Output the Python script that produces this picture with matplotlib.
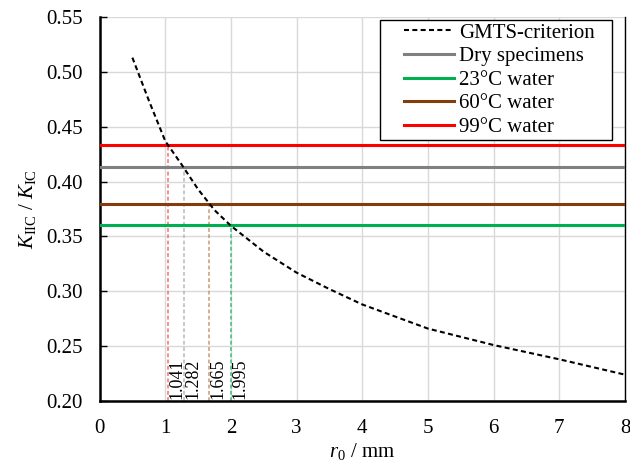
import matplotlib
matplotlib.use("Agg")
import matplotlib.pyplot as plt
from matplotlib.patches import Rectangle

plt.rcParams['font.family'] = ['Liberation Serif', 'DejaVu Serif']
plt.rcParams['mathtext.fontset'] = 'custom'
plt.rcParams['mathtext.rm'] = 'Liberation Serif'
plt.rcParams['mathtext.it'] = 'Liberation Serif:italic'

# GMTS-criterion curve K_IIC/K_IC vs r0
r0 = [0.5, 0.75, 1.0, 1.25, 1.5, 1.75, 2.0, 2.5, 3.0, 3.5, 4.0, 5.0, 6.0, 7.0, 8.0]
k_ratio = [0.513, 0.474, 0.437, 0.4155, 0.393, 0.374, 0.3597, 0.336, 0.317,
           0.302, 0.288, 0.266, 0.251, 0.238, 0.224]

# measured ratios for each condition
series_names = ['Dry specimens', '23°C water', '60°C water', '99°C water']
series_levels = [0.413, 0.360, 0.380, 0.433]
series_colors = ['#808080', '#00B050', '#843C0C', '#FF0000']

# r0 where the curve meets each level
cross_r0 = [1.282, 1.995, 1.665, 1.041]
cross_colors = ['#B8B8B8', '#3DBE78', '#C89A70', '#F47070']

fig = plt.figure(figsize=(6.3, 4.66), dpi=100)
ax = fig.add_axes([0.158, 0.1395, 0.834, 0.824])

ax.plot(r0, k_ratio, color='black', ls=(0, (2.4, 1.6)), lw=1.5, label='GMTS-criterion', zorder=4)
for name, lvl, c in zip(series_names, series_levels, series_colors):
    ax.axhline(lvl, color=c, lw=2.2, label=name, zorder=3)

for x, lvl, c in zip(cross_r0, series_levels, cross_colors):
    ax.plot([x, x], [0.20, lvl], color=c, ls=(0, (2.5, 1.6)), lw=1.1, zorder=2)
    ax.text(x + 0.01, 0.2015, f'{x:.3f}', rotation=90, ha='left', va='bottom',
            fontsize=13, zorder=5)

ax.set_xlim(0, 8)
ax.set_ylim(0.20, 0.55)
ax.set_xticks(range(0, 9))
ax.set_yticks([0.20, 0.25, 0.30, 0.35, 0.40, 0.45, 0.50, 0.55])
ax.set_yticklabels([f'{v:.2f}' for v in ax.get_yticks()])
ax.grid(True, color='#D9D9D9', lw=1.0, zorder=0)
ax.set_axisbelow(True)
ax.tick_params(axis='x', length=0, labelsize=15, pad=13)
ax.tick_params(axis='y', direction='in', length=5, width=1, labelsize=15, pad=12)

ax.spines['top'].set_visible(False)
ax.spines['left'].set_linewidth(1.8)
ax.spines['bottom'].set_linewidth(1.8)
ax.spines['right'].set_linewidth(1.0)

ax.set_xlabel('$r_0$ / mm', fontsize=15, labelpad=2)
ax.set_ylabel(r'$K_{\rm IIC}$ / $K_{\rm IC}$', fontsize=15, labelpad=6)

leg = ax.legend(loc='upper right', fontsize=15, frameon=False, handlelength=2.4,
                borderpad=0, labelspacing=0.19, handletextpad=0.25,
                borderaxespad=0, bbox_to_anchor=(0.943, 0.984))
leg.set_zorder(6)

# square frame around the legend, wider at the sides than on top/bottom
fig.canvas.draw()
bb = leg.get_window_extent()
inv = ax.transAxes.inverted()
(ax0, ay0) = inv.transform((bb.x0 - 24, bb.y0 - 3))
(ax1, ay1) = inv.transform((bb.x1 + 17, bb.y1 + 3))
ax.add_patch(Rectangle((ax0, ay0), ax1 - ax0, ay1 - ay0, transform=ax.transAxes,
                       facecolor='white', edgecolor='black', lw=1.0,
                       zorder=5.5, clip_on=False))

fig.savefig('out.png', dpi=100)
